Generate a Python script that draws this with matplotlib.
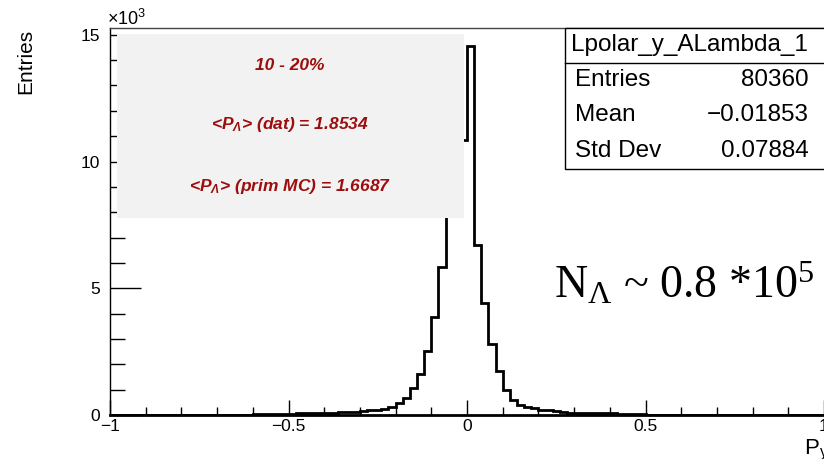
import matplotlib
matplotlib.use("Agg")
import matplotlib.pyplot as plt
from matplotlib.patches import Rectangle
from matplotlib.lines import Line2D
from matplotlib.ticker import MultipleLocator, FuncFormatter
import numpy as np

plt.rcParams["font.family"] = ["Liberation Sans", "DejaVu Sans"]

# histogram: 100 bins from -1 to 1
bin_lo, bin_hi, n_bins = -1.0, 1.0, 100
counts = [
    0, 0, 1, 0, 1, 1, 2, 2, 3, 3,
    4, 5, 5, 6, 8, 9, 11, 13, 15, 18,
    20, 24, 28, 34, 45, 48, 80, 80, 80, 82,
    82, 85, 130, 130, 135, 175, 180, 215, 225, 300,
    460, 680, 1050, 1610, 2530, 3870, 5840, 8000, 9600, 10830,
    14540, 6690, 4420, 2800, 1740, 980, 590, 390, 320, 260,
    200, 190, 140, 125, 80, 78, 75, 72, 70, 68,
    90, 55, 35, 25, 20, 18, 15, 12, 10, 8,
    7, 6, 5, 4, 3, 3, 2, 2, 1, 1,
    1, 0, 0, 0, 0, 0, 0, 0, 0, 0,
]

hist_name = "Lpolar_y_ALambda_1"
stat_labels = ["Entries", "Mean", "Std Dev"]
stat_values = ["80360", "\u22120.01853", "0.07884"]

box_lines = [
    "10 - 20%",
    "<$\\mathregular{P_{\u039b}}$> (dat) = 1.8534",
    "<$\\mathregular{P_{\u039b}}$> (prim MC) = 1.6687",
]
n_text = "$\\mathregular{N_{\u039b}}$ ~ 0.8 *$\\mathregular{10^{5}}$"

W, H = 824, 459


def fx(px):
    return px / W


def fy(py):
    return 1 - py / H


fig = plt.figure(figsize=(W / 100, H / 100), dpi=100)
ax = fig.add_axes([fx(110), fy(415), (824 - 110) / W, (415 - 28) / H])

edges = np.linspace(bin_lo, bin_hi, n_bins + 1)
ax.stairs(counts, edges, color="black", linewidth=2, zorder=2)

ax.set_xlim(bin_lo, bin_hi)
ax.set_ylim(0, max(counts) * 1.05)

ax.xaxis.set_major_locator(MultipleLocator(0.5))
ax.xaxis.set_minor_locator(MultipleLocator(0.1))
ax.yaxis.set_major_locator(MultipleLocator(5000))
ax.yaxis.set_minor_locator(MultipleLocator(1000))
ax.xaxis.set_major_formatter(FuncFormatter(
    lambda v, p: "\u22121" if v == -1 else ("1" if v == 1 else f"{v:g}".replace("-", "\u2212"))))
ax.yaxis.set_major_formatter(FuncFormatter(lambda v, p: f"{v / 1000:g}"))

ax.tick_params(axis="both", which="both", direction="in", top=False, right=False,
               width=1, color="black", labelsize=12.5)
ax.tick_params(axis="x", which="major", length=11, pad=3)
ax.tick_params(axis="x", which="minor", length=6)
ax.tick_params(axis="y", which="major", length=22, pad=7)
ax.tick_params(axis="y", which="minor", length=11)

ax.spines["right"].set_visible(False)
ax.spines["top"].set_color("#444444")
ax.spines["top"].set_linewidth(1)
ax.spines["left"].set_linewidth(1)
ax.spines["bottom"].set_linewidth(2)

# axis titles
fig.text(fx(35), fy(29), "Entries", rotation=90, ha="right", va="top", fontsize=15)
fig.text(fx(804), fy(454), "$\\mathregular{P_{y}}$", ha="left", va="baseline", fontsize=16)
fig.text(fx(107), fy(25), "\u00d7$\\mathregular{10^{3}}$", ha="left", va="baseline", fontsize=13)

# grey text box
fig.add_artist(Rectangle((fx(117), fy(218)), (464 - 117) / W, (218 - 34) / H,
                         transform=fig.transFigure, facecolor="#f2f2f2",
                         edgecolor="none", zorder=3))
for ypix, line in zip([66, 125, 186], box_lines):
    fig.text(fx(290), fy(ypix), line, ha="center", va="center", fontsize=12.5,
             fontweight="bold", fontstyle="italic", color="#9c0e0e", zorder=4)

# stats box
fig.add_artist(Rectangle((fx(565), fy(169)), (840 - 565) / W, (169 - 28) / H,
                         transform=fig.transFigure, facecolor="white",
                         edgecolor="black", linewidth=1, zorder=3))
fig.add_artist(Line2D([fx(565), fx(830)], [fy(63), fy(63)],
                      transform=fig.transFigure, color="black", linewidth=1, zorder=4))
fig.text(fx(689), fy(45), hist_name, ha="center", va="center", fontsize=17.5, zorder=4)
for ypix, lab, val in zip([80, 115, 151], stat_labels, stat_values):
    fig.text(fx(575), fy(ypix), lab, ha="left", va="center", fontsize=17.5, zorder=4)
    fig.text(fx(809), fy(ypix), val, ha="right", va="center", fontsize=17.5, zorder=4)

fig.text(fx(554), fy(298), n_text, ha="left", va="baseline", fontsize=33,
         family=["Liberation Serif", "DejaVu Serif"])

fig.savefig("out.png", dpi=100)
